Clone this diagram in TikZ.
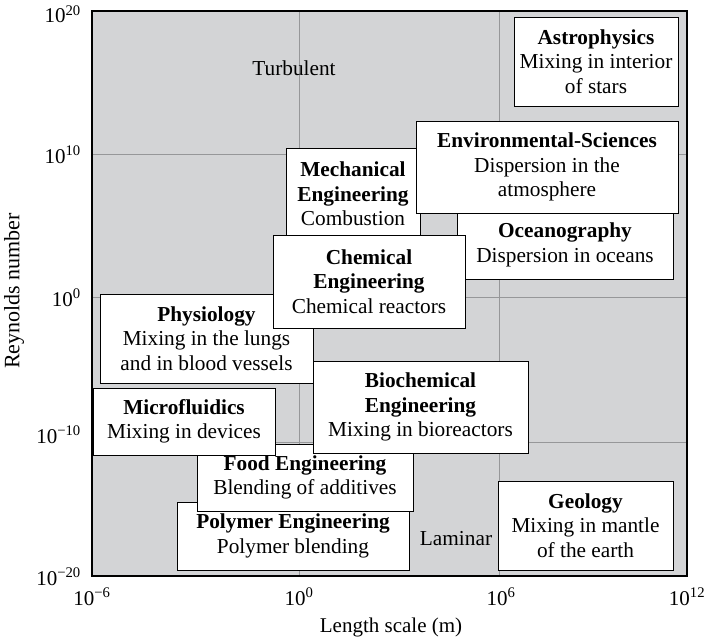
\documentclass[tikz,border=0pt]{standalone}
\usepackage{fontspec}
\setmainfont{Liberation Serif}
\usetikzlibrary{positioning}
\definecolor{plot-gray}{RGB}{211, 212, 214}
\definecolor{grid-gray}{RGB}{150, 151, 153}
\tikzset{
  fieldbox/.style={draw=black, fill=white, line width=1pt, align=center, inner sep=0pt,
    font=\fontsize{21.3}{24.5}\selectfont},
  ticklabel/.style={inner sep=0pt, font=\fontsize{21}{24}\selectfont},
  regimelabel/.style={inner sep=0pt, font=\fontsize{21.3}{24}\selectfont},
}
\newcommand{\tenpow}[1]{10\textsuperscript{#1}}

\begin{document}
\begin{tikzpicture}[x=1pt, y=-1pt]
\useasboundingbox (0,0) rectangle (707,637);
% plot area
\fill[plot-gray] (92,11) rectangle (687,576);
\draw[grid-gray, line width=0.8pt] (299,11) -- (299,576);
\draw[grid-gray, line width=0.8pt] (499,11) -- (499,576);
\draw[grid-gray, line width=0.8pt] (92,154) -- (687,154);
\draw[grid-gray, line width=0.8pt] (92,297) -- (687,297);
\draw[grid-gray, line width=0.8pt] (92,442) -- (687,442);
\draw[line width=1.2pt] (92,11) rectangle (687,576);

\node[regimelabel] (turb) at (294,68) {Turbulent};
\node[regimelabel] (lam) at (456,539) {Laminar};

% fields, back to front
\node[fieldbox, minimum width=164pt, minimum height=89pt] (astro) at (596,61.5)
  {\textbf{Astrophysics}\\Mixing in interior\\of stars};
\node[fieldbox, minimum width=216pt, minimum height=68pt] (ocean) at (565,245)
  {\textbf{Oceanography}\\Dispersion in oceans};
\node[fieldbox, minimum width=134pt, minimum height=92pt] (mech) at (353,194)
  {\textbf{Mechanical}\\\textbf{Engineering}\\Combustion};
\node[fieldbox, minimum width=262pt, minimum height=92pt] (env) at (547,167)
  {\textbf{Environmental-Sciences}\\Dispersion in the\\atmosphere};
\node[fieldbox, minimum width=213pt, minimum height=89pt] (physio) at (206.5,338.5)
  {\textbf{Physiology}\\Mixing in the lungs\\and in blood vessels};
\node[fieldbox, minimum width=192pt, minimum height=93pt] (chem) at (369,281.5)
  {\textbf{Chemical}\\\textbf{Engineering}\\Chemical reactors};
\node[fieldbox, minimum width=232pt, minimum height=68pt] (polymer) at (293,536)
  {\textbf{Polymer Engineering}\\Polymer blending};
\node[fieldbox, minimum width=216pt, minimum height=67pt] (food) at (305,477.5)
  {\textbf{Food Engineering}\\Blending of additives};
\node[fieldbox, minimum width=182pt, minimum height=67pt] (micro) at (184,421.5)
  {\textbf{Microfluidics}\\Mixing in devices};
\node[fieldbox, minimum width=215pt, minimum height=92pt] (biochem) at (420.5,407)
  {\textbf{Biochemical}\\\textbf{Engineering}\\Mixing in bioreactors};
\node[fieldbox, minimum width=175pt, minimum height=89pt] (geo) at (585.5,525.5)
  {\textbf{Geology}\\Mixing in mantle\\of the earth};

% axes
\node[ticklabel, anchor=base east] (y20) at (81,23) {\tenpow{20}};
\node[ticklabel, anchor=base east] (y10) at (81,163) {\tenpow{10}};
\node[ticklabel, anchor=base east] (y0) at (81,306) {\tenpow{0}};
\node[ticklabel, anchor=base east] (ym10) at (81,443) {\tenpow{−10}};
\node[ticklabel, anchor=base east] (ym20) at (81,585) {\tenpow{−20}};
\node[ticklabel, anchor=base] (xm6) at (92,605) {\tenpow{−6}};
\node[ticklabel, anchor=base] (x0) at (299,605) {\tenpow{0}};
\node[ticklabel, anchor=base] (x6) at (501,605) {\tenpow{6}};
\node[ticklabel, anchor=base] (x12) at (687,605) {\tenpow{12}};
\node[ticklabel, anchor=base] (xtitle) at (391,632) {Length scale (m)};
\node[ticklabel, rotate=90, font=\fontsize{22}{24}\selectfont] (ytitle) at (14,291) {Reynolds number};
\end{tikzpicture}
\end{document}
